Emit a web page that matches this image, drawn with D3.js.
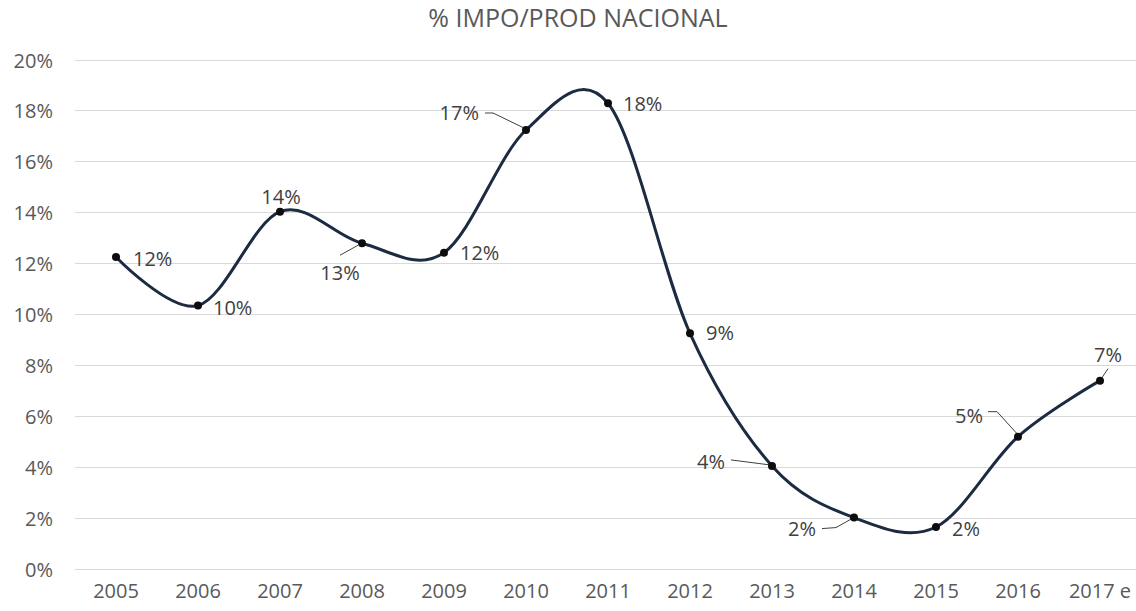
<!DOCTYPE html>
<html>
<head>
<meta charset="utf-8">
<script src="https://cdn.jsdelivr.net/npm/d3@7"></script>
<style>
  html, body { margin: 0; padding: 0; background: #fff; }
  svg { display: block; font-family: "Open Sans", sans-serif; }
</style>
</head>
<body>
<svg id="chart" width="1136" height="611"></svg>
<script>
// ---- data ----
const categories = ["2005","2006","2007","2008","2009","2010","2011","2012","2013","2014","2015","2016","2017 e"];
const values = [0.1226, 0.1035, 0.1404, 0.128, 0.1243, 0.1725, 0.183, 0.0926, 0.0405, 0.0202, 0.0165, 0.052, 0.074];
const labels = ["12%","10%","14%","13%","12%","17%","18%","9%","4%","2%","2%","5%","7%"];
const yTicks = [0, 0.02, 0.04, 0.06, 0.08, 0.10, 0.12, 0.14, 0.16, 0.18, 0.20];
const title = "% IMPO/PROD NACIONAL";

// ---- label placement (layout, relative to each point) ----
const labelPlace = [
  {anchor:"start",  dx:17,  dy:2,   leader:null},
  {anchor:"start",  dx:15,  dy:2,   leader:null},
  {anchor:"middle", dx:1,   dy:-15, leader:null},
  {anchor:"middle", dx:-22, dy:30,  leader:[[-22,12],[-4,2]]},
  {anchor:"start",  dx:16,  dy:0,   leader:null},
  {anchor:"end",    dx:-47, dy:-17, leader:[[-41,-17],[-33,-17],[-2,-2]]},
  {anchor:"start",  dx:15,  dy:1,   leader:null},
  {anchor:"start",  dx:16,  dy:0,   leader:null},
  {anchor:"end",    dx:-47, dy:-4,  leader:[[-41,-6],[-2,-1]]},
  {anchor:"end",    dx:-38, dy:11,  leader:[[-32,11],[-18,10],[-2,1]]},
  {anchor:"start",  dx:16,  dy:2,   leader:null},
  {anchor:"end",    dx:-35, dy:-21, leader:[[-30,-25],[-21,-25],[-1,-3]]},
  {anchor:"middle", dx:8,   dy:-26, leader:[[8,-12],[2,-3]]}
];

const svg = d3.select("#chart");
const margin = {left: 75, top: 60, bottom: 569};
const band = 82;

const x = d3.scaleBand().domain(categories).range([margin.left, margin.left + band * categories.length]).padding(0);
const y = d3.scaleLinear().domain([0, 0.20]).range([margin.bottom, margin.top]);
const cx = d => x(d) + x.bandwidth() / 2;

// gridlines
svg.append("g").selectAll("line").data(yTicks).join("line")
  .attr("x1", x.range()[0]).attr("x2", x.range()[1])
  .attr("y1", d => y(d)).attr("y2", d => y(d))
  .attr("stroke", "#d9d9d9").attr("stroke-width", 1).attr("shape-rendering", "crispEdges");

// y axis labels
const yAxis = d3.axisLeft(y).tickValues(yTicks).tickFormat(d3.format(".0%")).tickSize(0).tickPadding(0);
const gy = svg.append("g").attr("transform", "translate(53,0)").call(yAxis);
gy.select(".domain").remove();
gy.selectAll("text").attr("fill", "#595959").attr("font-size", "20px").attr("font-family", "Open Sans, sans-serif").attr("dy", "0.35em");

// x axis labels
const xAxis = d3.axisBottom(x).tickSize(0).tickPadding(0);
const gx = svg.append("g").attr("transform", "translate(0,584)").call(xAxis);
gx.select(".domain").remove();
gx.selectAll("text").attr("fill", "#595959").attr("font-size", "20px").attr("font-family", "Open Sans, sans-serif").attr("dy", "0.71em");

// title
svg.append("text").attr("x", 578).attr("y", 27).attr("text-anchor", "middle")
  .attr("fill", "#595959").attr("font-size", "25px").text(title);

// line
const pts = categories.map((c, i) => ({c, v: values[i], l: labels[i], p: labelPlace[i]}));
const line = d3.line().x(d => cx(d.c)).y(d => y(d.v)).curve(d3.curveCardinal.tension(0));
svg.append("path").datum(pts).attr("d", line)
  .attr("fill", "none").attr("stroke", "#1c2a42").attr("stroke-width", 3).attr("stroke-linejoin", "round");

// leader lines
const leaderGen = d3.line();
svg.append("g").selectAll("path").data(pts.filter(d => d.p.leader)).join("path")
  .attr("d", d => leaderGen(d.p.leader.map(([dx, dy]) => [cx(d.c) + dx, y(d.v) + dy])))
  .attr("fill", "none").attr("stroke", "#404040").attr("stroke-width", 1);

// markers
svg.append("g").selectAll("circle").data(pts).join("circle")
  .attr("cx", d => cx(d.c)).attr("cy", d => y(d.v)).attr("r", 4)
  .attr("fill", "#0d0d0d");

// data labels
svg.append("g").selectAll("text").data(pts).join("text")
  .attr("x", d => cx(d.c) + d.p.dx).attr("y", d => y(d.v) + d.p.dy)
  .attr("dy", "0.35em").attr("text-anchor", d => d.p.anchor)
  .attr("fill", "#404040").attr("font-size", "20px").text(d => d.l);
</script>
</body>
</html>
